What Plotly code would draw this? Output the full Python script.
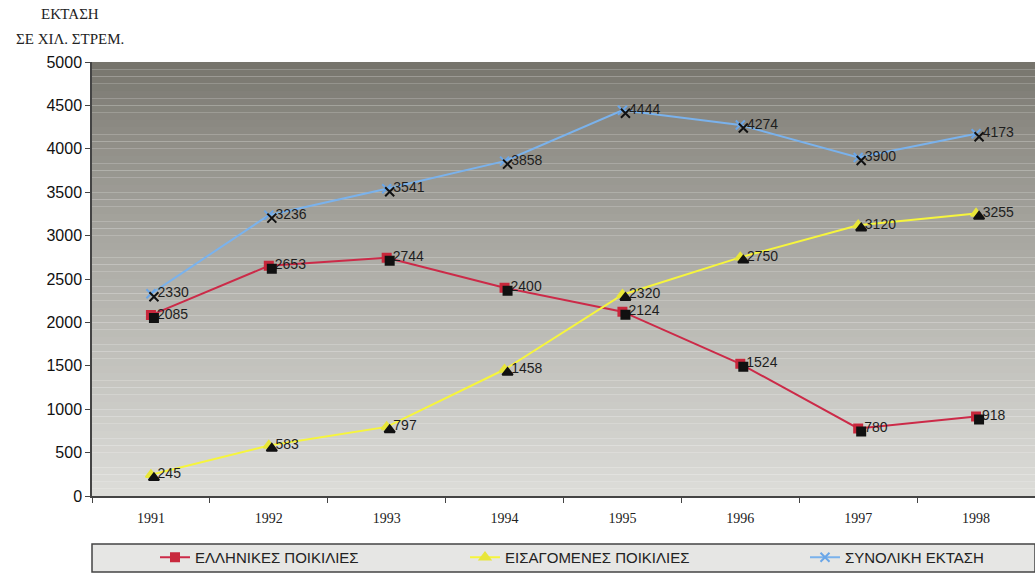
import plotly.graph_objects as go

years = ["1991", "1992", "1993", "1994", "1995", "1996", "1997", "1998"]
greek = [2085, 2653, 2744, 2400, 2124, 1524, 780, 918]
imported = [245, 583, 797, 1458, 2320, 2750, 3120, 3255]
total = [2330, 3236, 3541, 3858, 4444, 4274, 3900, 4173]

series_names = ["ΕΛΛΗΝΙΚΕΣ ΠΟΙΚΙΛΙΕΣ", "ΕΙΣΑΓΟΜΕΝΕΣ ΠΟΙΚΙΛΙΕΣ", "ΣΥΝΟΛΙΚΗ ΕΚΤΑΣΗ"]

W, H = 1035, 574
ML, MT, MB = 92, 62, 24
PLOT_BOTTOM = 497            # pixel row of the x axis
paper_bottom = H - MB
paper_h = paper_bottom - MT
plot_w = W - ML
plot_h = PLOT_BOTTOM - MT
dom0 = (paper_bottom - PLOT_BOTTOM) / paper_h


def py(pix):
    """pixel row -> paper y fraction"""
    return (paper_bottom - pix) / paper_h


def px(pix):
    """pixel column -> paper x fraction"""
    return (pix - ML) / plot_w


fig = go.Figure()

# offset for the dark drop shadow under the markers (in pixels)
sx = 3 / (plot_w / len(years))
sy = 3 * 5000 / plot_h

shadow_specs = [
    (greek, "square", 8),
    (imported, "triangle-up", 9),
    (total, "x-thin", 9),
]
for vals, sym, size in shadow_specs:
    fig.add_trace(go.Scatter(
        x=list(range(len(years))), y=vals, xaxis="x2", yaxis="y2",
        mode="markers", showlegend=False, hoverinfo="skip",
        marker=dict(symbol=sym, size=size, color="#111111",
                    line=dict(color="#111111", width=2)),
    ))

styles = [
    (greek, "#cc2a48", "square", 8, "#c8283c", "legend"),
    (imported, "#f6f53c", "triangle-up", 9, "#e8e63a", "legend2"),
    (total, "#7ab2ec", "x-thin", 9, "#6aa6e8", "legend3"),
]
for name, (vals, lc, sym, size, mc, lg) in zip(series_names, styles):
    fig.add_trace(go.Scatter(
        x=years, y=vals, name=name, mode="lines+markers+text",
        line=dict(color=lc, width=2),
        marker=dict(symbol=sym, size=size, color=mc,
                    line=dict(color=mc, width=2)),
        text=[str(v) for v in vals], textposition="middle right",
        textfont=dict(family="Liberation Sans, Arial", size=14, color="#1e1e1e"),
        cliponaxis=False, legend=lg,
    ))

# vertical grey gradient behind the plot area
shapes = []
n = 60
top = (118, 116, 108)
bottom = (220, 220, 216)
for i in range(n):
    t = (i / (n - 1)) ** 0.8
    c = tuple(int(round(top[k] + (bottom[k] - top[k]) * t)) for k in range(3))
    shapes.append(dict(
        type="rect", xref="x domain", yref="y domain",
        x0=0, x1=1, y0=1 - (i + 1) / n, y1=1 - i / n,
        fillcolor="rgb(%d,%d,%d)" % c, line=dict(width=0), layer="below",
    ))
# legend frame under the plot
shapes.append(dict(
    type="rect", xref="paper", yref="paper",
    x0=0.0, x1=1.0, y0=py(573), y1=py(545),
    fillcolor="#e6e6e4", line=dict(color="#444444", width=1.5), layer="below",
))

serif = "Liberation Serif, Times New Roman"
legend_font = dict(family="Liberation Sans, Arial", size=15, color="#222222")


def legend_at(xpix):
    return dict(
        orientation="h", x=px(xpix), xanchor="left",
        y=py(559), yanchor="middle", bgcolor="rgba(0,0,0,0)",
        font=legend_font, itemwidth=30,
    )


fig.update_layout(
    width=W, height=H,
    margin=dict(l=ML, r=0, t=MT, b=MB),
    paper_bgcolor="white", plot_bgcolor="rgba(0,0,0,0)",
    shapes=shapes,
    showlegend=True,
    legend=legend_at(155),
    legend2=legend_at(465),
    legend3=legend_at(805),
    xaxis=dict(
        type="category", range=[-0.5, len(years) - 0.5],
        showline=True, linecolor="#444444", linewidth=1.5,
        ticks="outside", tickson="boundaries", ticklen=5, tickcolor="#444444",
        ticklabelstandoff=8,
        tickfont=dict(family=serif, size=14, color="#222222"),
        showgrid=False, zeroline=False, fixedrange=True,
    ),
    yaxis=dict(
        domain=[dom0, 1],
        range=[0, 5000], dtick=500,
        showline=True, linecolor="#444444", linewidth=1.5,
        ticks="outside", ticklen=5, tickcolor="#444444",
        tickfont=dict(family="Liberation Sans, Arial", size=16, color="#111111"),
        showgrid=False, zeroline=False,
    ),
    xaxis2=dict(
        overlaying="x", range=[-0.5 - sx, len(years) - 0.5 - sx],
        visible=False, fixedrange=True,
    ),
    yaxis2=dict(
        overlaying="y", range=[sy, 5000 + sy], visible=False,
    ),
    annotations=[
        dict(text="ΕΚΤΑΣΗ", xref="paper", yref="paper", x=px(70),
             y=py(14), xanchor="center", yanchor="middle", showarrow=False,
             font=dict(family=serif, size=15, color="#222222")),
        dict(text="ΣΕ ΧΙΛ. ΣΤΡΕΜ.", xref="paper", yref="paper", x=px(70),
             y=py(39), xanchor="center", yanchor="middle", showarrow=False,
             font=dict(family=serif, size=15, color="#222222")),
    ],
)

fig.write_html("out.html")
